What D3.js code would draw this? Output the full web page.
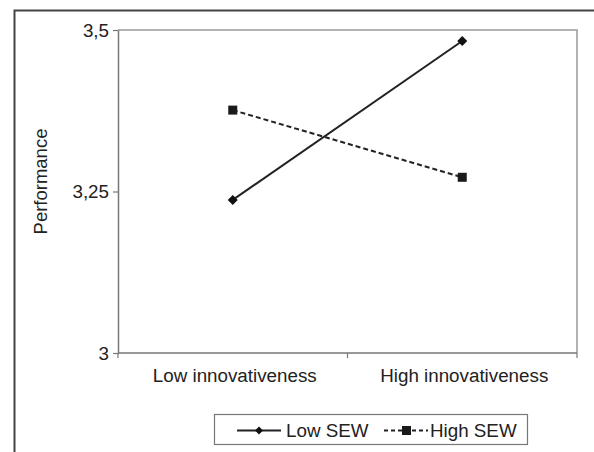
<!DOCTYPE html>
<html>
<head>
<meta charset="utf-8">
<script src="https://cdn.jsdelivr.net/npm/d3@7"></script>
<style>
  html, body { margin: 0; padding: 0; background: #fff; }
  svg { display: block; font-family: "Liberation Sans", Arial, Helvetica, sans-serif; }
</style>
</head>
<body>
<svg id="chart" width="594" height="452"></svg>
<script>
const categories = ["Low innovativeness", "High innovativeness"];
const lowSEW = [3.237, 3.483];
const highSEW = [3.376, 3.272];
const yTicks = [3, 3.25, 3.5];
const yTickLabels = ["3", "3,25", "3,5"];
const seriesNames = ["Low SEW", "High SEW"];

const svg = d3.select("#chart");
const plot = { left: 118, top: 30, right: 577, bottom: 353 };
const FS = 18.8;

// outer frame (extends past image right/bottom)
svg.append("rect")
  .attr("x", 14.5).attr("y", 10.5)
  .attr("width", 700).attr("height", 700)
  .attr("fill", "none").attr("stroke", "#444").attr("stroke-width", 2);

const x = d3.scalePoint().domain(categories).range([plot.left, plot.right]).padding(0.5);
const xBand = d3.scaleBand().domain(categories).range([plot.left, plot.right]);
const y = d3.scaleLinear().domain([3, 3.5]).range([plot.bottom, plot.top]);

// plot area border (top & right)
svg.append("path")
  .attr("d", `M${plot.left},${plot.top}H${plot.right}V${plot.bottom}`)
  .attr("fill", "none").attr("stroke", "#999").attr("stroke-width", 1.5);

// y axis
const yAxis = d3.axisLeft(y).tickValues(yTicks)
  .tickFormat((d, i) => yTickLabels[i]).tickSize(5).tickSizeOuter(0).tickPadding(4);
const gy = svg.append("g").attr("transform", `translate(${plot.left},0)`).call(yAxis);
gy.select(".domain").attr("stroke", "#777").attr("stroke-width", 1.5);
gy.selectAll(".tick line").attr("stroke", "#777").attr("stroke-width", 1.2);
gy.selectAll(".tick text").attr("font-size", FS).attr("fill", "#222")
  .attr("font-family", "'Liberation Sans', Arial, sans-serif");

// x axis: ticks at category boundaries
const boundaries = [plot.left, xBand(categories[1]), plot.right];
svg.append("line")
  .attr("x1", plot.left).attr("x2", plot.right)
  .attr("y1", plot.bottom).attr("y2", plot.bottom)
  .attr("stroke", "#777").attr("stroke-width", 1.5);
svg.selectAll(".xtick").data(boundaries).enter().append("line")
  .attr("x1", d => d).attr("x2", d => d)
  .attr("y1", plot.bottom).attr("y2", plot.bottom + 5)
  .attr("stroke", "#777").attr("stroke-width", 1.2);
svg.selectAll(".xlabel").data(categories).enter().append("text")
  .attr("x", d => x(d) + 2).attr("y", 382)
  .attr("text-anchor", "middle").attr("font-size", FS).attr("fill", "#222")
  .text(d => d);

// y axis title
svg.append("text")
  .attr("transform", `translate(47,181.5) rotate(-90)`)
  .attr("text-anchor", "middle").attr("font-size", 18.5).attr("fill", "#222")
  .text("Performance");

const line = d3.line().x((d, i) => x(categories[i])).y(d => y(d));

// High SEW dashed
svg.append("path").datum(highSEW).attr("d", line)
  .attr("fill", "none").attr("stroke", "#222").attr("stroke-width", 2)
  .attr("stroke-dasharray", "5,3");
// Low SEW solid
svg.append("path").datum(lowSEW).attr("d", line)
  .attr("fill", "none").attr("stroke", "#222").attr("stroke-width", 2);

const diamondPath = "M0,-5L5,0L0,5L-5,0Z";
svg.selectAll(".dLow").data(lowSEW).enter().append("path")
  .attr("d", diamondPath)
  .attr("transform", (d, i) => `translate(${x(categories[i])},${y(d)})`)
  .attr("fill", "#111");
svg.selectAll(".sHigh").data(highSEW).enter().append("rect")
  .attr("x", (d, i) => x(categories[i]) - 4.5).attr("y", d => y(d) - 4.5)
  .attr("width", 9).attr("height", 9).attr("fill", "#1a1a1a");

// legend
const lg = svg.append("g");
lg.append("rect").attr("x", 214.5).attr("y", 414.5).attr("width", 313).attr("height", 30)
  .attr("fill", "#fff").attr("stroke", "#777").attr("stroke-width", 1.2);
const ly = 430.5;
lg.append("line").attr("x1", 237).attr("x2", 281).attr("y1", ly).attr("y2", ly)
  .attr("stroke", "#222").attr("stroke-width", 2);
lg.append("path").attr("d", "M0,-4L4,0L0,4L-4,0Z").attr("transform", `translate(259,${ly})`).attr("fill", "#111");
lg.append("text").attr("x", 286).attr("y", 436.5).attr("font-size", FS).attr("fill", "#222").text(seriesNames[0]);
lg.append("line").attr("x1", 384).attr("x2", 428).attr("y1", ly).attr("y2", ly)
  .attr("stroke", "#222").attr("stroke-width", 2).attr("stroke-dasharray", "4,3");
lg.append("rect").attr("x", 402).attr("y", ly - 4.5).attr("width", 9).attr("height", 9).attr("fill", "#1a1a1a");
lg.append("text").attr("x", 430).attr("y", 436.5).attr("font-size", FS).attr("fill", "#222").text(seriesNames[1]);
</script>
</body>
</html>
